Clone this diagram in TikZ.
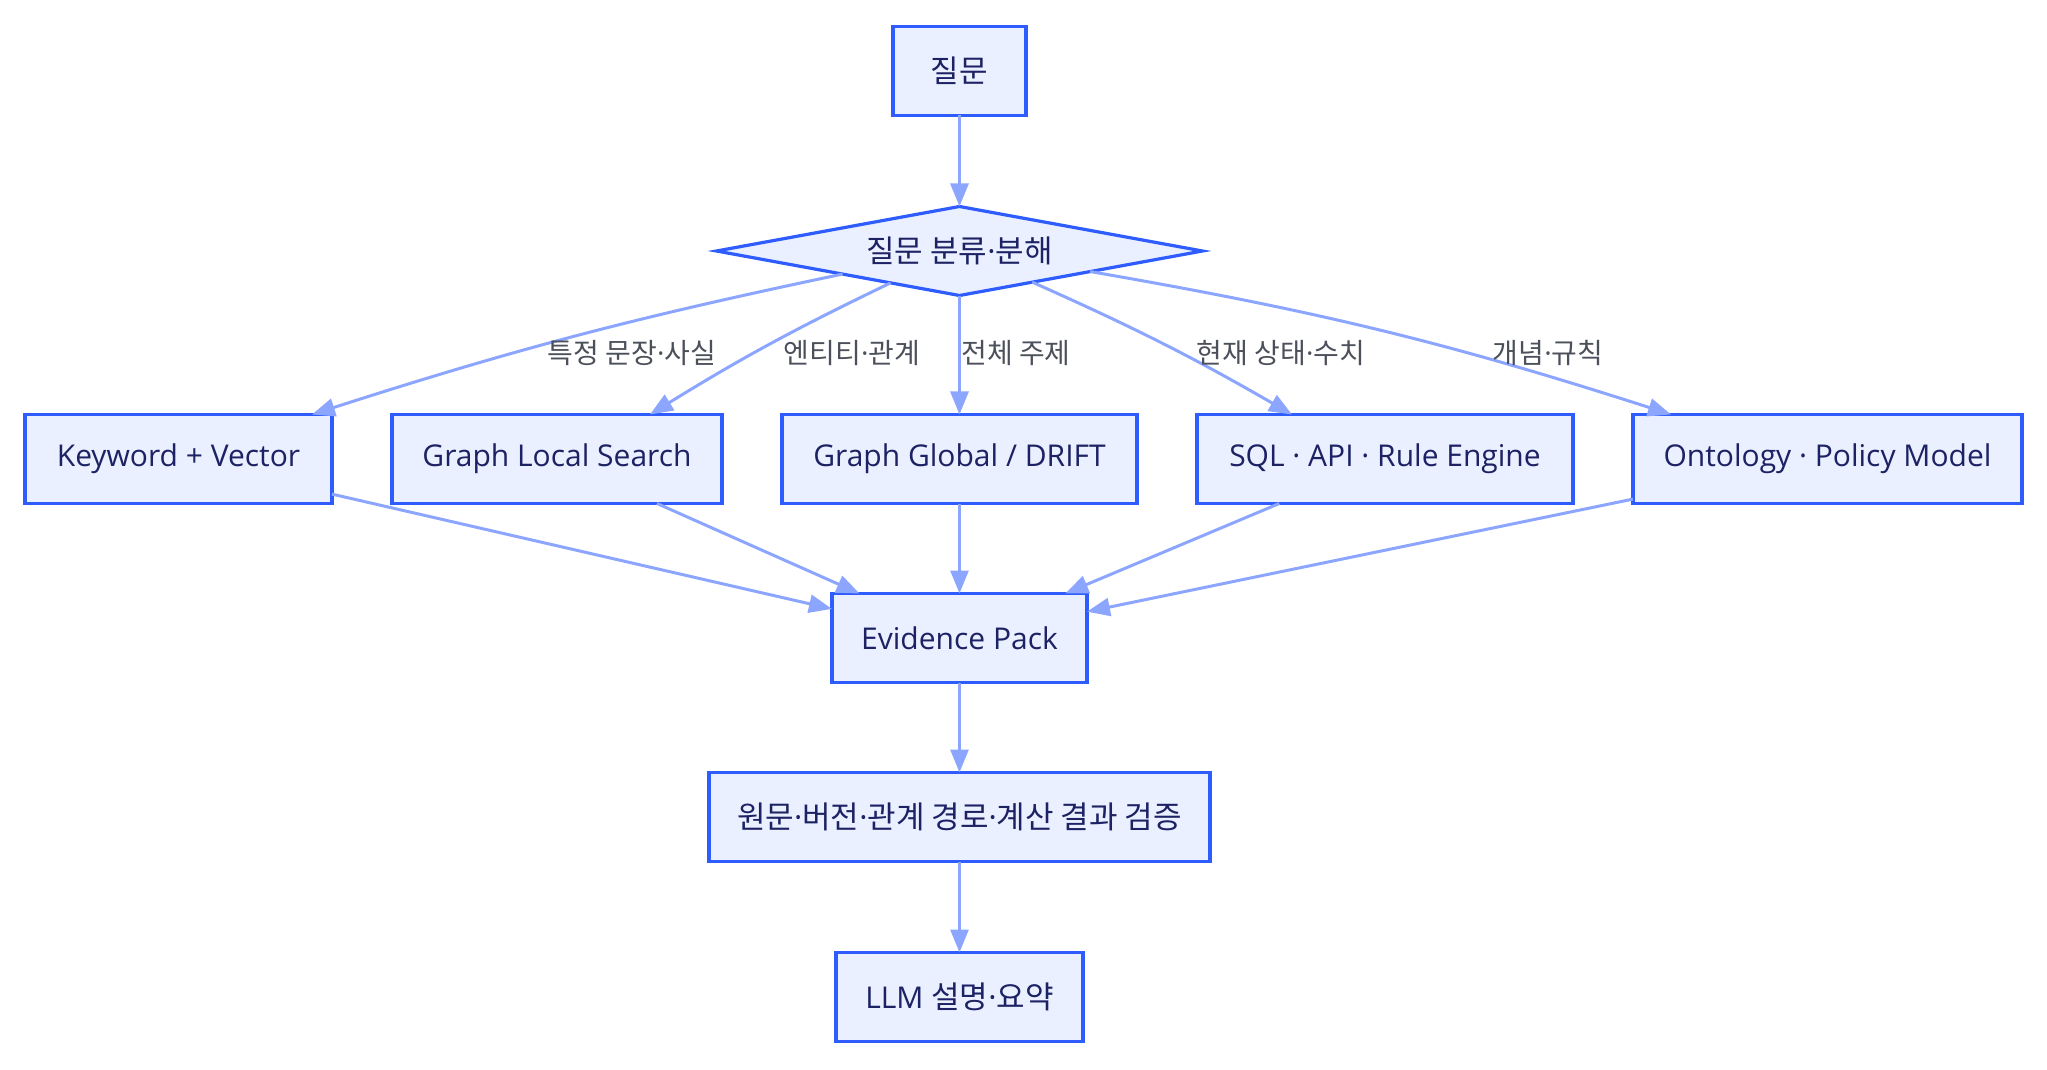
\documentclass[tikz,border=0pt]{standalone}
\usepackage{fontspec}
\setmainfont{Open Sans}
\newfontfamily\krfont{Noto Sans CJK KR}
\newcommand{\kdot}{{\normalfont ·}}
\newcommand{\hangul}[1]{{\krfont\fontsize{15.5}{18}\selectfont #1}}
\usetikzlibrary{%
	positioning,
	arrows.meta,
	shapes.geometric
}
\definecolor{boxline}{RGB}{46,92,255}
\definecolor{boxfill}{RGB}{234,240,255}
\definecolor{boxtext}{RGB}{28,34,99}
\definecolor{arrline}{RGB}{140,166,255}
\definecolor{lbltext}{RGB}{75,80,90}

\begin{document}
\begin{tikzpicture}[
		SBox/.style={draw=boxline,fill=boxfill,line width=1.6pt,text=boxtext,shape=rectangle,font=\fontsize{15}{18}\selectfont,minimum height=44.5pt,inner sep=0pt,outer sep=0pt},
		SBoxKr/.style={SBox,font=\krfont\fontsize{15.5}{18}\selectfont},
		SDecide/.style={SBoxKr,shape=diamond,aspect=5.46,minimum width=243pt},
		route/.style={text=lbltext,font=\krfont\fontsize{14}{16}\selectfont,inner sep=0pt},
		flow/.style={draw=arrline,line width=1.5pt,-{Triangle[length=11.5pt,width=9pt]}}
	]
	\useasboundingbox (-479.75pt,35.5pt) rectangle (543.75pt,-499.5pt);
	
		%question and split
		\node (qst) [SBoxKr,minimum width=66.5pt] {질문};
		\node (cls) [SDecide,below=45.5pt of qst] {질문 분류\kdot 분해};
		\draw [flow] (qst) -- (cls);
		
		%retrievers
		\node (glob) [SBox,minimum width=177.5pt,below=59.5pt of cls] {Graph Global / DRIFT};
		\node (loc) [SBox,minimum width=165pt,left=30pt of glob] {Graph Local Search};
		\node (kw) [SBox,minimum width=153.5pt,left=30pt of loc] {Keyword + Vector};
		\node (sql) [SBox,minimum width=188pt,right=30pt of glob] {SQL · API · Rule Engine};
		\node (ont) [SBox,minimum width=194.5pt,right=30pt of sql] {Ontology · Policy Model};
		
		\draw [flow] (cls) to [bend right=3] ([xshift=-10pt]kw.north east);
		\draw [flow] (cls) to [bend right=3] ([xshift=-36pt]loc.north east);
		\draw [flow] (cls) -- (glob);
		\draw [flow] (cls) to [bend left=3] ([xshift=47.5pt]sql.north west);
		\draw [flow] (cls) to [bend left=4] ([xshift=19pt]ont.north west);
		
		\node (r-kw) [route] at ([shift={(-163.75pt,-51pt)}]cls.center) {특정 문장\kdot 사실};
		\node (r-loc) [route] at ([shift={(-53.75pt,-51pt)}]cls.center) {엔티티\kdot 관계};
		\node (r-glob) [route] at ([shift={(28.25pt,-51pt)}]cls.center) {전체 주제};
		\node (r-sql) [route] at ([shift={(160.75pt,-51pt)}]cls.center) {현재 상태\kdot 수치};
		\node (r-ont) [route] at ([shift={(294.25pt,-51pt)}]cls.center) {개념\kdot 규칙};
		
		%evidence and answer
		\node (ev) [SBox,minimum width=127.5pt,below=45pt of glob] {Evidence Pack};
		\node (chk) [SBoxKr,minimum width=250.5pt,below=45pt of ev] {원문\kdot 버전\kdot 관계 경로\kdot 계산 결과 검증};
		\node (llm) [SBox,minimum width=123.5pt,below=45.5pt of chk] {LLM \hangul{설명\kdot 요약}};
		
		\draw [flow] (kw) -- (ev);
		\draw [flow] (loc) -- (ev);
		\draw [flow] (glob) -- (ev);
		\draw [flow] (sql) -- (ev);
		\draw [flow] (ont) -- (ev);
		\draw [flow] (ev) -- (chk);
		\draw [flow] (chk) -- (llm);
		
\end{tikzpicture}
\end{document}
